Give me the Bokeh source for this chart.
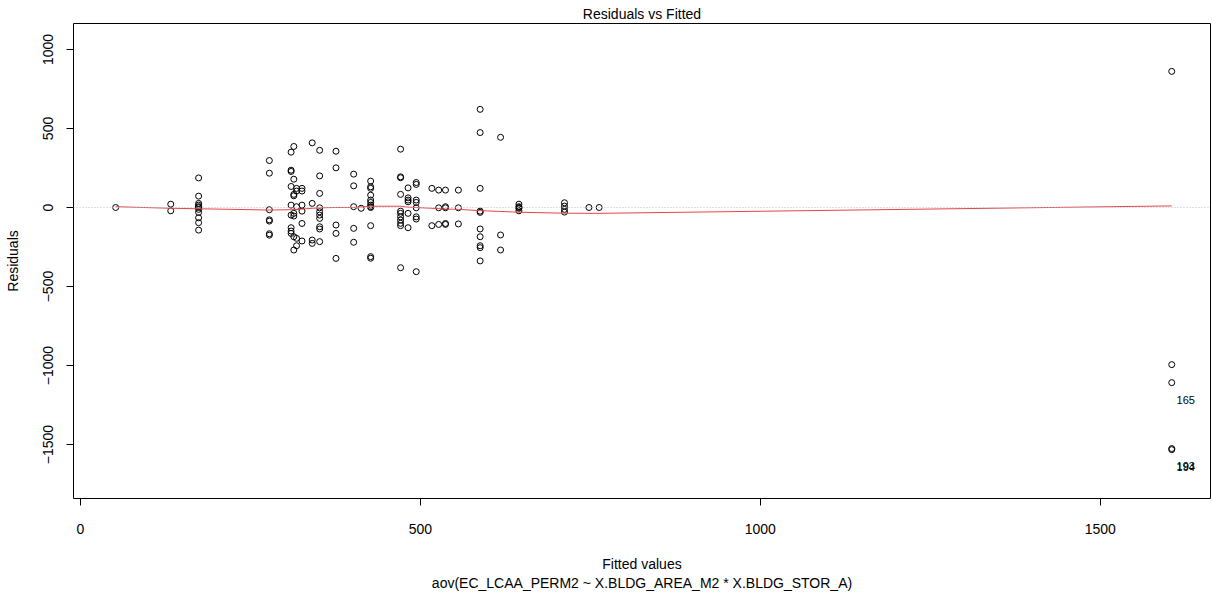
from bokeh.plotting import figure
from bokeh.models import Range1d, FixedTicker, Span, ColumnDataSource
from bokeh.embed import file_html
from bokeh.resources import INLINE
from bokeh.core.properties import value

# ---- data ----
fitted_levels = [52, 133, 174, 278, 310, 314, 318, 326, 341, 352, 376, 402, 413, 427,
                 471, 482, 494, 517, 527, 537, 556, 588, 618, 645, 712, 748, 763, 1605]
residuals_by_level = [
    [0],
    [21, -21],
    [187, 72, 26, 15, 5, 0, -12, -31, -65, -96, -143],
    [297, 217, -14, -78, -86, -166, -175],
    [350, 236, 228, 133, 15, -48, -128, -149, -164],
    [386, 179, 83, 74, -37, -54, -185, -269],
    [121, 104, 5, -195, -242],
    [121, 104, 15, -23, -101, -212],
    [409, 26, -206, -227],
    [362, 200, 89, -2, -27, -48, -69, -122, -136, -216],
    [356, 251, -111, -164, -322],
    [211, 137, 5, -132, -220],
    [-5],
    [167, 131, 121, 78, 47, 32, 15, 5, 0, -115, -311, -321],
    [369, 194, 188, 83, -23, -37, -59, -80, -100, -115, -381],
    [124, 61, 47, 36, -37, -128],
    [158, 146, 47, 32, -2, -59, -73, -406],
    [121, -115],
    [110, -2, -107],
    [110, 5, -2, -101, -107],
    [110, -2, -104],
    [621, 474, 121, -23, -31, -136, -185, -242, -254, -338],
    [444, -174, -269],
    [21, 5, 0, -5, -21],
    [30, 9, -12, -29],
    [0],
    [0],
    [861, -994, -1108, -1525, -1532],
]

smooth_x = [52, 133, 174, 278, 310, 326, 341, 352, 376, 402, 427, 471, 482, 494,
            517, 537, 556, 588, 618, 645, 712, 748, 763, 1605]
smooth_y = [5, -5, -8, -16, -14, -10, -5, -2, 0, 0, 8, 8, 2, 0,
            -5, -10, -12, -20, -25, -30, -36, -37, -37, 10]

label_x = [1605, 1605, 1605]
label_y = [-1108, -1525, -1532]
label_text = ["165", "193", "194"]

x_ticks = [0, 500, 1000, 1500]
y_ticks = [-1500, -1000, -500, 0, 500, 1000]

title_text = "Residuals vs Fitted"
x_label = "Fitted values"
x_sub = "aov(EC_LCAA_PERM2 ~ X.BLDG_AREA_M2 * X.BLDG_STOR_A)"
y_label = "Residuals"

fitted = []
residuals = []
for fx, rs in zip(fitted_levels, residuals_by_level):
    for r in rs:
        fitted.append(fx)
        residuals.append(r)

FONT = "Liberation Sans"

p = figure(width=1212, height=593, output_backend="svg", toolbar_location=None,
           x_range=Range1d(-10, 1662), y_range=Range1d(-1841, 1164),
           min_border_left=73, min_border_right=2, min_border_top=23, min_border_bottom=10)

p.title.text = title_text
p.title.align = "center"
p.title.vertical_align = "top"
p.title.text_font = FONT
p.title.text_font_size = "14px"
p.title.text_font_style = "normal"
p.title.text_color = "black"
p.title.standoff = 0
p.title.offset = 0

p.grid.visible = False
p.outline_line_color = "black"
p.outline_line_width = 1
p.outline_line_alpha = 1.0
p.background_fill_color = "white"
p.border_fill_color = "white"

for ax in (p.xaxis[0], p.yaxis[0]):
    ax.axis_line_color = None
    ax.major_tick_out = 7
    ax.major_tick_in = 0
    ax.minor_tick_out = 0
    ax.minor_tick_in = 0
    ax.major_tick_line_color = "black"
    ax.major_label_text_font = FONT
    ax.major_label_text_font_size = "14px"
    ax.major_label_text_color = "black"
    ax.axis_label_text_font = FONT
    ax.axis_label_text_font_size = "14px"
    ax.axis_label_text_font_style = "normal"
    ax.axis_label_text_color = "black"

p.xaxis.ticker = FixedTicker(ticks=x_ticks)
p.yaxis.ticker = FixedTicker(ticks=y_ticks)
p.xaxis.axis_label = x_label + "\n" + x_sub
p.yaxis.axis_label = y_label
p.xaxis.major_label_standoff = 18
p.xaxis.axis_label_standoff = 19
p.yaxis.major_label_standoff = 13
p.yaxis.axis_label_standoff = 20
p.yaxis.major_label_orientation = "vertical"

zero = Span(location=0, dimension="width", line_color="#BEBEBE", line_dash="1 2", line_width=1)
p.add_layout(zero)

src = ColumnDataSource(dict(x=fitted, y=residuals))
p.scatter("x", "y", source=src, marker="circle", size=6, fill_color=None,
          line_color="black", line_width=1)

p.line(smooth_x, smooth_y, line_color="#E0474C", line_width=1)

lsrc = ColumnDataSource(dict(x=label_x, y=label_y, t=label_text))
p.text("x", "y", text="t", source=lsrc, text_font=value(FONT), text_font_size="11px",
       text_align="center", text_baseline="middle", x_offset=14, y_offset=17,
       text_color="black")

open("out.html", "w").write(file_html(p, INLINE))
